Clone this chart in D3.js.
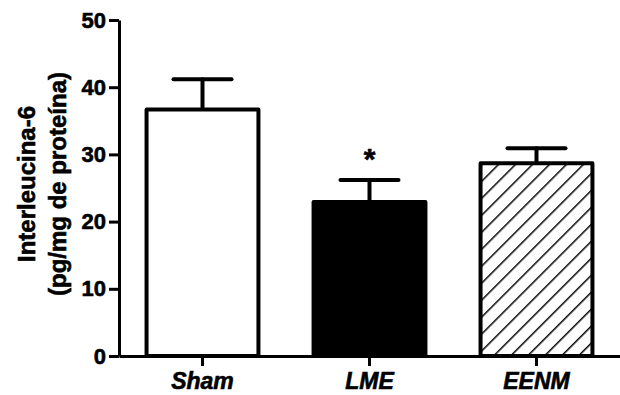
<!DOCTYPE html>
<html>
<head>
<meta charset="utf-8">
<script src="https://cdn.jsdelivr.net/npm/d3@7"></script>
<style>
  body { margin: 0; background: #fff; }
  svg { display: block; font-family: Arial, 'Liberation Sans', Helvetica, sans-serif; }
  svg text { stroke: #000; stroke-width: 0.6px; }
</style>
</head>
<body>
<svg id="chart"></svg>
<script>
const categories = ['Sham', 'LME', 'EENM'];
const means = [36.7, 22.9, 28.7];
const errTops = [41.2, 26.2, 30.9];
const yTicks = [0, 10, 20, 30, 40, 50];
const fills = ['#fff', '#000', 'url(#hatch)'];
const stars = ['', '*', ''];

const width = 620;
const height = 395;
const margin = { top: 20, right: 0, bottom: 39, left: 119 };

const svg = d3.select('#chart').attr('width', width).attr('height', height);

const defs = svg.append('defs');
const pat = defs
  .append('pattern')
  .attr('id', 'hatch')
  .attr('patternUnits', 'userSpaceOnUse')
  .attr('width', 12)
  .attr('height', 12)
  .attr('patternTransform', 'rotate(45)');
pat.append('rect').attr('width', 12).attr('height', 12).attr('fill', '#fff');
pat
  .append('line')
  .attr('x1', 0)
  .attr('y1', 0)
  .attr('x2', 0)
  .attr('y2', 12)
  .attr('stroke', '#000')
  .attr('stroke-width', 3);

const x = d3
  .scaleBand()
  .domain(categories)
  .range([margin.left, width - margin.right])
  .paddingInner(0.33)
  .paddingOuter(0.165);

const y = d3
  .scaleLinear()
  .domain([0, 50])
  .range([height - margin.bottom, margin.top]);

// bars data
const data = categories.map((c, i) => ({
  label: c,
  value: means[i],
  err: errTops[i],
  fill: fills[i],
  star: stars[i],
}));

// error bars (drawn first, bar covers the lower half)
const eb = svg.append('g').attr('stroke', '#000').attr('stroke-width', 4).attr('stroke-linecap', 'round');
eb.selectAll('line.v')
  .data(data)
  .join('line')
  .attr('class', 'v')
  .attr('x1', (d) => x(d.label) + x.bandwidth() / 2)
  .attr('x2', (d) => x(d.label) + x.bandwidth() / 2)
  .attr('y1', (d) => y(d.value))
  .attr('y2', (d) => y(d.err));
eb.selectAll('line.cap')
  .data(data)
  .join('line')
  .attr('class', 'cap')
  .attr('x1', (d) => x(d.label) + x.bandwidth() / 2 - 29)
  .attr('x2', (d) => x(d.label) + x.bandwidth() / 2 + 29)
  .attr('y1', (d) => y(d.err))
  .attr('y2', (d) => y(d.err));

svg
  .append('g')
  .selectAll('rect')
  .data(data)
  .join('rect')
  .attr('x', (d) => x(d.label))
  .attr('y', (d) => y(d.value))
  .attr('width', x.bandwidth())
  .attr('height', (d) => y(0) - y(d.value))
  .attr('fill', (d) => d.fill)
  .attr('stroke', '#000')
  .attr('stroke-width', 4)
  .attr('stroke-linejoin', 'round');

svg
  .append('g')
  .selectAll('text')
  .data(data.filter((d) => d.star))
  .join('text')
  .attr('x', (d) => x(d.label) + x.bandwidth() / 2)
  .attr('y', (d) => y(d.err) - 11)
  .attr('text-anchor', 'middle')
  .attr('font-size', 30)
  .attr('font-weight', 'bold')
  .text((d) => d.star);

// y axis
const yAxis = svg
  .append('g')
  .attr('transform', `translate(${margin.left},0)`)
  .call(d3.axisLeft(y).tickValues(yTicks).tickSize(10).tickSizeOuter(0).tickPadding(3));
yAxis.select('.domain').attr('stroke-width', 3);
yAxis.selectAll('.tick line').attr('stroke-width', 3);
yAxis
  .selectAll('.tick text')
  .attr('font-size', 22)
  .attr('font-weight', 'bold')
  .attr('fill', '#000')
  .attr('font-family', 'Arial, Liberation Sans, sans-serif');

// x axis
const xAxis = svg
  .append('g')
  .attr('transform', `translate(0,${y(0)})`)
  .call(d3.axisBottom(x).tickSize(10).tickSizeOuter(0).tickPadding(7));
xAxis.select('.domain').attr('stroke-width', 3);
xAxis.selectAll('.tick line').attr('stroke-width', 3);
xAxis
  .selectAll('.tick text')
  .attr('font-size', 23)
  .attr('font-weight', 'bold')
  .attr('font-style', 'italic')
  .attr('fill', '#000')
  .attr('font-family', 'Arial, Liberation Sans, sans-serif');

// y title
const title = svg
  .append('text')
  .attr('transform', 'translate(35,184) rotate(-90)')
  .attr('text-anchor', 'middle')
  .attr('font-size', 24)
  .attr('font-weight', 'bold');
title.append('tspan').attr('x', 0).attr('dy', 0).text('Interleucina-6');
title.append('tspan').attr('x', 0).attr('dy', 31).text('(pg/mg de proteína)');
</script>
</body>
</html>
